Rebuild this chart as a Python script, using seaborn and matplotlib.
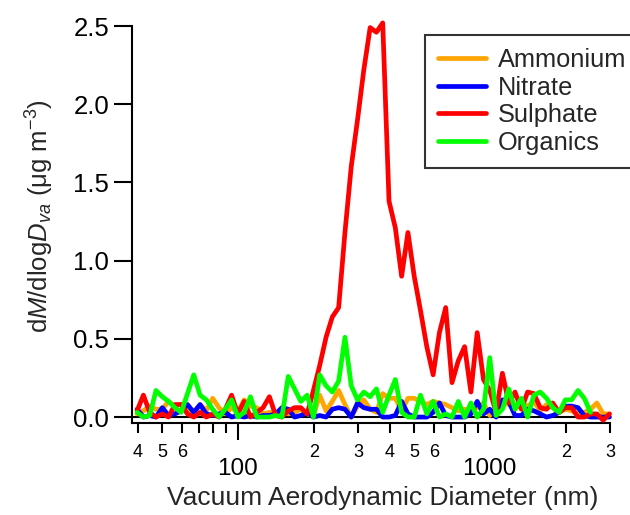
import numpy as np
import pandas as pd
import matplotlib
matplotlib.use("Agg")
import matplotlib.pyplot as plt
import seaborn as sns
from matplotlib.ticker import FixedLocator, FixedFormatter
from matplotlib.lines import Line2D

# Vacuum aerodynamic diameter bins (nm)
diameter = [39.81, 42.17, 44.67, 47.32, 50.12, 53.09, 56.23, 59.57, 63.10, 66.83,
            70.79, 74.99, 79.43, 84.14, 89.13, 94.41, 100.0, 105.9, 112.2, 118.9,
            125.9, 133.4, 141.3, 149.6, 158.5, 167.9, 177.8, 188.4, 199.5, 211.3,
            223.9, 237.1, 251.2, 266.1, 281.8, 298.5, 316.2, 335.0, 354.8, 375.8,
            398.1, 421.7, 446.7, 473.2, 501.2, 530.9, 562.3, 595.7, 631.0, 668.3,
            707.9, 749.9, 794.3, 841.4, 891.3, 944.1, 1000, 1059, 1122, 1189,
            1259, 1334, 1413, 1496, 1585, 1679, 1778, 1884, 1995, 2113,
            2239, 2371, 2512, 2661, 2818, 2985]

ammonium = [0.02, 0.04, 0.07, 0.05, 0.05, 0.10, 0.07, 0.08, 0.05, 0.03,
            0.08, 0.04, 0.12, 0.06, 0.02, 0.06, 0.03, 0.11, 0.07, 0.06,
            0.02, 0.03, 0.02, 0.04, 0.02, 0.03, 0.05, 0.02, 0.01, 0.14,
            0.04, 0.10, 0.17, 0.08, 0.00, 0.07, 0.11, 0.05, 0.03, 0.15,
            0.12, 0.12, 0.04, 0.12, 0.12, 0.10, 0.08, 0.10, 0.09, 0.08,
            0.06, 0.04, 0.05, 0.04, 0.06, 0.09, 0.01, 0.06, 0.09, 0.08,
            0.05, 0.09, 0.07, 0.10, 0.04, 0.08, 0.06, 0.03, 0.05, 0.04,
            0.02, 0.03, 0.05, 0.09, 0.02, 0.02]

nitrate = [0.05, 0.00, 0.01, 0.00, 0.06, 0.01, 0.02, 0.04, 0.08, 0.03,
           0.08, 0.02, 0.01, 0.02, 0.03, 0.00, 0.01, 0.00, 0.01, 0.00,
           0.01, 0.01, 0.02, 0.06, 0.05, 0.00, 0.01, 0.03, 0.00, 0.01,
           0.00, 0.05, 0.06, 0.05, 0.00, 0.09, 0.06, 0.05, 0.05, 0.00,
           0.00, 0.01, 0.10, 0.02, 0.00, 0.00, 0.00, 0.03, 0.09, 0.01,
           0.00, 0.00, 0.00, 0.02, 0.10, 0.02, 0.05, 0.00, 0.11, 0.10,
           0.01, 0.01, 0.05, 0.04, 0.02, 0.00, 0.01, 0.03, 0.07, 0.07,
           0.06, 0.01, 0.00, 0.00, 0.00, 0.00]

sulphate = [0.04, 0.14, 0.03, 0.00, 0.02, 0.00, 0.08, 0.08, 0.02, 0.00,
            0.03, 0.00, 0.02, 0.00, 0.05, 0.14, 0.02, 0.10, 0.00, 0.03,
            0.06, 0.13, 0.01, 0.00, 0.04, 0.06, 0.06, 0.02, 0.17, 0.33,
            0.51, 0.64, 0.70, 1.18, 1.60, 1.90, 2.22, 2.49, 2.46, 2.52,
            1.38, 1.21, 0.90, 1.18, 0.90, 0.68, 0.45, 0.27, 0.54, 0.70,
            0.22, 0.36, 0.45, 0.16, 0.54, 0.24, 0.17, 0.03, 0.28, 0.09,
            0.16, 0.05, 0.16, 0.15, 0.06, 0.05, 0.09, 0.03, 0.06, 0.06,
            0.00, 0.00, 0.02, 0.02, -0.02, 0.02]

organics = [0.03, 0.00, 0.01, 0.17, 0.13, 0.10, 0.06, 0.03, 0.15, 0.27,
            0.14, 0.11, 0.05, 0.00, 0.05, 0.11, 0.00, 0.03, 0.13, 0.00,
            0.00, 0.00, 0.01, 0.00, 0.26, 0.18, 0.10, 0.14, 0.00, 0.27,
            0.20, 0.16, 0.23, 0.51, 0.20, 0.11, 0.16, 0.13, 0.18, 0.03,
            0.14, 0.24, 0.03, 0.00, 0.00, 0.14, 0.02, 0.10, 0.00, 0.02,
            0.00, 0.10, 0.00, 0.09, 0.00, 0.05, 0.38, 0.01, 0.05, 0.18,
            0.05, 0.12, 0.00, 0.14, 0.16, 0.12, 0.06, 0.03, 0.11, 0.11,
            0.17, 0.12, 0.03, np.nan, np.nan, np.nan]

species = ["Ammonium", "Nitrate", "Sulphate", "Organics"]
colors = ["#FFA500", "#0000FF", "#FF0000", "#00FF00"]

major_ticks = [100, 1000]
major_labels = ["100", "1000"]
minor_ticks = [40, 50, 60, 70, 80, 90, 200, 300, 400, 500, 600, 700, 800, 900, 2000, 3000]
minor_labels = ["4", "5", "6", "", "", "", "2", "3", "4", "5", "6", "", "", "", "2", "3"]
y_ticks = [0.0, 0.5, 1.0, 1.5, 2.0, 2.5]
y_labels = ["0.0", "0.5", "1.0", "1.5", "2.0", "2.5"]

sns.set_style("ticks")
plt.rcParams["font.family"] = ["Liberation Sans", "DejaVu Sans"]
plt.rcParams["mathtext.fontset"] = "custom"
plt.rcParams["mathtext.rm"] = "Liberation Sans"
plt.rcParams["mathtext.it"] = "Liberation Sans:italic"

df = pd.DataFrame({"Dva": diameter, "Ammonium": ammonium, "Nitrate": nitrate,
                   "Sulphate": sulphate, "Organics": organics})
long = df.melt(id_vars="Dva", var_name="species", value_name="value").dropna()

W, H = 630, 515
fig = plt.figure(figsize=(W / 100, H / 100), dpi=100)
ax = fig.add_axes([132 / W, 1 - 423 / H, (610 - 132) / W, (423 - 26) / H])

ax.axhline(0, color="black", lw=1.5, zorder=1)
sns.lineplot(data=long, x="Dva", y="value", hue="species", hue_order=species,
             palette=dict(zip(species, colors)), estimator=None, lw=3.4,
             legend=False, ax=ax, zorder=3)
for ln in ax.lines:
    ln.set_clip_on(False)

ax.set_xscale("log")
ax.set_xlim(38, 3000)
ax.set_ylim(-0.038, 2.5)

ax.xaxis.set_major_locator(FixedLocator(major_ticks))
ax.xaxis.set_major_formatter(FixedFormatter(major_labels))
ax.xaxis.set_minor_locator(FixedLocator(minor_ticks))
ax.xaxis.set_minor_formatter(FixedFormatter(minor_labels))
ax.set_yticks(y_ticks)
ax.set_yticklabels(y_labels)

ax.tick_params(axis="x", which="major", direction="out", length=12, width=1.5,
               labelsize=17.5, pad=13.5, colors="black")
ax.tick_params(axis="x", which="minor", direction="out", length=7, width=1.5,
               labelsize=13, pad=8, colors="black")
ax.tick_params(axis="y", which="major", direction="out", length=13, width=1.5,
               labelsize=18.5, pad=3.5, colors="black")

for s in ["top", "right"]:
    ax.spines[s].set_visible(False)
for s in ["left", "bottom"]:
    ax.spines[s].set_linewidth(1.5)
    ax.spines[s].set_color("black")
ax.set_xlabel("")
ax.set_ylabel("")

fig.text(383 / W, 1 - 498 / H, "Vacuum Aerodynamic Diameter (nm)", ha="center",
         va="center", fontsize=19)
fig.text(40 / W, 1 - 216 / H,
         r"d$\mathit{M}$/dlog$\mathit{D}_{va}$ (μg m$^{-3}$)",
         rotation=90, ha="center", va="center", fontsize=18.5)

handles = [Line2D([0], [0], color=c, lw=3.4) for c in colors]
leg = fig.legend(handles, species, loc="upper left",
                 bbox_to_anchor=(425 / W, 1 - 35 / H), frameon=True, fancybox=False,
                 fontsize=18.3, handlelength=1.9, handletextpad=0.47, labelspacing=0.15,
                 borderpad=0.5, borderaxespad=0)
leg.get_frame().set_edgecolor("black")
leg.get_frame().set_linewidth(1.5)

fig.savefig("out.png", dpi=100)
